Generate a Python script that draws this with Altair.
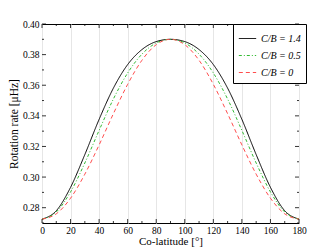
import altair as alt
import pandas as pd

colat = [0, 10, 20, 30, 40, 50, 60, 70, 80, 90, 100, 110, 120, 130, 140, 150, 160, 170, 180]
half_14 = [0.2725, 0.2780, 0.2933, 0.3147, 0.3377, 0.3581, 0.3735, 0.3833, 0.3885, 0.3900]
half_05 = [0.2725, 0.2772, 0.2903, 0.3092, 0.3305, 0.3510, 0.3680, 0.3803, 0.3876, 0.3900]
half_00 = [0.2725, 0.2760, 0.2862, 0.3019, 0.3210, 0.3414, 0.3606, 0.3763, 0.3865, 0.3900]
rate_14 = half_14 + half_14[-2::-1]
rate_05 = half_05 + half_05[-2::-1]
rate_00 = half_00 + half_00[-2::-1]

labels = ["C/B = 1.4", "C/B = 0.5", "C/B = 0"]
colors = ["#000000", "#33bb33", "#ff4d4d"]
dashes = [[1, 0], [3, 2, 1, 2], [4, 3]]

x_major = [0, 20, 40, 60, 80, 100, 120, 140, 160, 180]
x_minor = [10, 30, 50, 70, 90, 110, 130, 150, 170]
y_major = [0.28, 0.30, 0.32, 0.34, 0.36, 0.38, 0.40]
y_minor = [0.27, 0.29, 0.31, 0.33, 0.35, 0.37, 0.39]

rows = []
for lab, vals in zip(labels, [rate_14, rate_05, rate_00]):
    for c, v in zip(colat, vals):
        rows.append({"colat": c, "rate": v, "series": lab})
df = pd.DataFrame(rows)

W, H = 257, 199
FONT = "Liberation Serif"
XT = "Co-latitude [°]"
YT = "Rotation rate [μHz]"

xs = alt.Scale(domain=[0, 180], nice=False)
ys = alt.Scale(domain=[0.27, 0.40], nice=False, zero=False)
xax = alt.Axis(values=x_major, grid=True, ticks=False, domain=False,
               labelPadding=2, format="d", labelOverlap=False, labelFlush=False,
               gridColor="#e6e6e6", gridWidth=1, titlePadding=1)
yax = alt.Axis(values=y_major, grid=False, ticks=False, domain=False,
               labelPadding=3, format=".2f", labelOverlap=False, labelFlush=False,
               titlePadding=3, titleFontSize=11.5)

lines = alt.Chart(df).mark_line(strokeWidth=1, interpolate="monotone").encode(
    x=alt.X("colat:Q", scale=xs, title=XT, axis=xax),
    y=alt.Y("rate:Q", scale=ys, title=YT, axis=yax),
    color=alt.Color("series:N", scale=alt.Scale(domain=labels, range=colors),
                    legend=alt.Legend(title=None)),
    strokeDash=alt.StrokeDash("series:N", scale=alt.Scale(domain=labels, range=dashes),
                              legend=alt.Legend(title=None)),
)

xt_major = pd.DataFrame({"v": x_major})
xt_minor = pd.DataFrame({"v": x_minor})
yt_major = pd.DataFrame({"v": y_major})
yt_minor = pd.DataFrame({"v": y_minor})

def xticks(d, L):
    b = alt.Chart(d).mark_rule(color="black", strokeWidth=0.8).encode(
        x=alt.X("v:Q", scale=xs, title=XT, axis=xax), y=alt.value(H), y2=alt.value(H - L))
    t = alt.Chart(d).mark_rule(color="black", strokeWidth=0.8).encode(
        x=alt.X("v:Q", scale=xs, title=XT, axis=xax), y=alt.value(0), y2=alt.value(L))
    return [b, t]

def yticks(d, L):
    l = alt.Chart(d).mark_rule(color="black", strokeWidth=0.8).encode(
        y=alt.Y("v:Q", scale=ys, title=YT, axis=yax), x=alt.value(0), x2=alt.value(L))
    r = alt.Chart(d).mark_rule(color="black", strokeWidth=0.8).encode(
        y=alt.Y("v:Q", scale=ys, title=YT, axis=yax), x=alt.value(W), x2=alt.value(W - L))
    return [l, r]

layers = [lines] + xticks(xt_major, 4) + xticks(xt_minor, 2) + yticks(yt_major, 4) + yticks(yt_minor, 2)

chart = alt.layer(*layers).properties(
    width=W, height=H,
    autosize=alt.AutoSizeParams(type="none"),
    padding={"left": 34, "top": 16, "right": 25, "bottom": 26},
).configure_view(stroke="black", strokeWidth=1).configure_axis(
    labelFont=FONT, titleFont=FONT, labelFontSize=9.5, titleFontSize=11,
    titleFontWeight="normal", labelColor="black", titleColor="black",
).configure_legend(
    orient="none", legendX=W - 66, legendY=0,
    fillColor="white", strokeColor="black",
    padding=5, labelFont=FONT, labelFontSize=10, labelFontStyle="italic",
    labelColor="black",
    symbolType="stroke", symbolSize=300, symbolStrokeWidth=1, rowPadding=2,
    cornerRadius=0,
)

chart.save("out.html", embed_options={"renderer": "svg", "actions": False})
